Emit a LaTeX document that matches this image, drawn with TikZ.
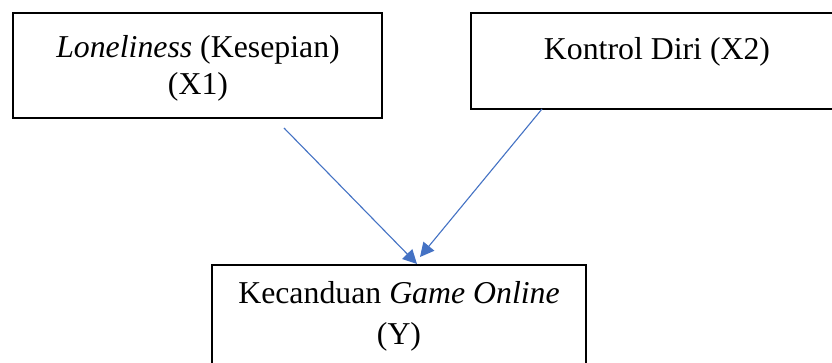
\documentclass[tikz,border=0pt]{standalone}
\usepackage{fontspec}
\setmainfont{Liberation Serif}
\usetikzlibrary{arrows.meta}
\definecolor{arrowblue}{HTML}{4472C4}
\begin{document}
\begin{tikzpicture}[x=0.5pt,y=-0.5pt,
  box/.style={draw=black,line width=1.3pt},
  lbl/.style={anchor=base,inner sep=0pt,align=center,font=\fontsize{15.9pt}{18.5pt}\selectfont},
  link/.style={draw=arrowblue,line width=0.55pt,-{Triangle[length=7pt,width=7pt]}}]
\clip (0,0) rectangle (832,363);
\fill[white] (0,0) rectangle (832,363);
% boxes
\draw[box] (13,13) rectangle (382,118);
\draw[box] (471,13) rectangle (843,109);
\draw[box] (212,265) rectangle (586,375);
% texts
\node[lbl] (t1a) at (198,58) {\textit{Loneliness} (Kesepian)};
\node[lbl] (t1b) at (198,95) {(X1)};
\node[lbl] (t2) at (657,60) {Kontrol Diri (X2)};
\node[lbl] (t3a) at (399,304) {Kecanduan \textit{Game Online}};
\node[lbl] (t3b) at (399,345) {(Y)};
% arrows
\coordinate (s1) at (284,128);
\coordinate (e1) at (417,264);
\coordinate (s2) at (542,109);
\coordinate (e2) at (420,257);
\draw[link] (s1) -- (e1);
\draw[link] (s2) -- (e2);
\end{tikzpicture}
\end{document}
